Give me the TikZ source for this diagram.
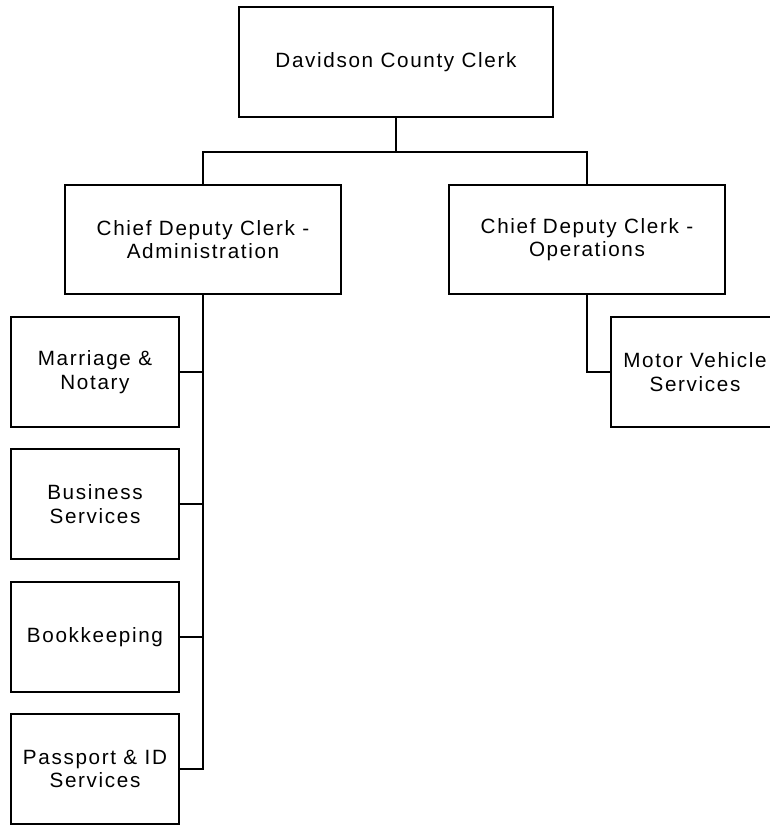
\documentclass[tikz,border=0pt]{standalone}
\usepackage{fontspec}
\setmainfont[LetterSpace=8]{Liberation Sans}
\usepackage{tikz}
\usetikzlibrary{positioning}
\tikzstyle{org_box}=[draw=black, line width=1.5pt, rectangle, fill=white, align=center,
    inner sep=0pt, font=\fontsize{15.5}{17.5}\selectfont]
\tikzstyle{head_box}=[org_box, minimum width=314*0.75pt, minimum height=110*0.75pt]
\tikzstyle{deputy_box}=[org_box, minimum width=276*0.75pt, minimum height=109*0.75pt]
\tikzstyle{unit_box}=[org_box, minimum width=168*0.75pt, minimum height=110*0.75pt]
\tikzstyle{org_line}=[draw=black, line width=1.5pt]

\begin{document}
\begin{tikzpicture}[x=0.75pt, y=-0.75pt]
          \useasboundingbox (0,0) rectangle (770,825);
          \clip (0,0) rectangle (770,825);
          \node[head_box] (clerk) at (396,62){Davidson County Clerk};
          \node[deputy_box] (admin) at (203,239.5){Chief Deputy Clerk -\\Administration};
          \node[deputy_box] (ops) at (587,239.5){Chief Deputy Clerk -\\Operations};
          \node[unit_box] (marriage) at (95,372){Marriage \&\\Notary};
          \node[unit_box] (business) at (95,504){Business\\Services};
          \node[unit_box] (bookkeeping) at (95,637){Bookkeeping};
          \node[unit_box] (passport) at (95,769){Passport \& ID\\Services};
          \node[unit_box] (motor) at (695,372){Motor Vehicle\\Services};
          \coordinate (bus) at (396,152);
          \draw[org_line](clerk.south) -- (bus);
          \draw[org_line](admin.north) |- (bus) -| (ops.north);
          \draw[org_line](admin.south) |- (passport.east);
          \foreach \unit in {marriage,business,bookkeeping}
            \draw[org_line](\unit.east) -- (\unit.east -| admin.south);
          \draw[org_line](ops.south) |- (motor.west);
        \end{tikzpicture}
\end{document}
